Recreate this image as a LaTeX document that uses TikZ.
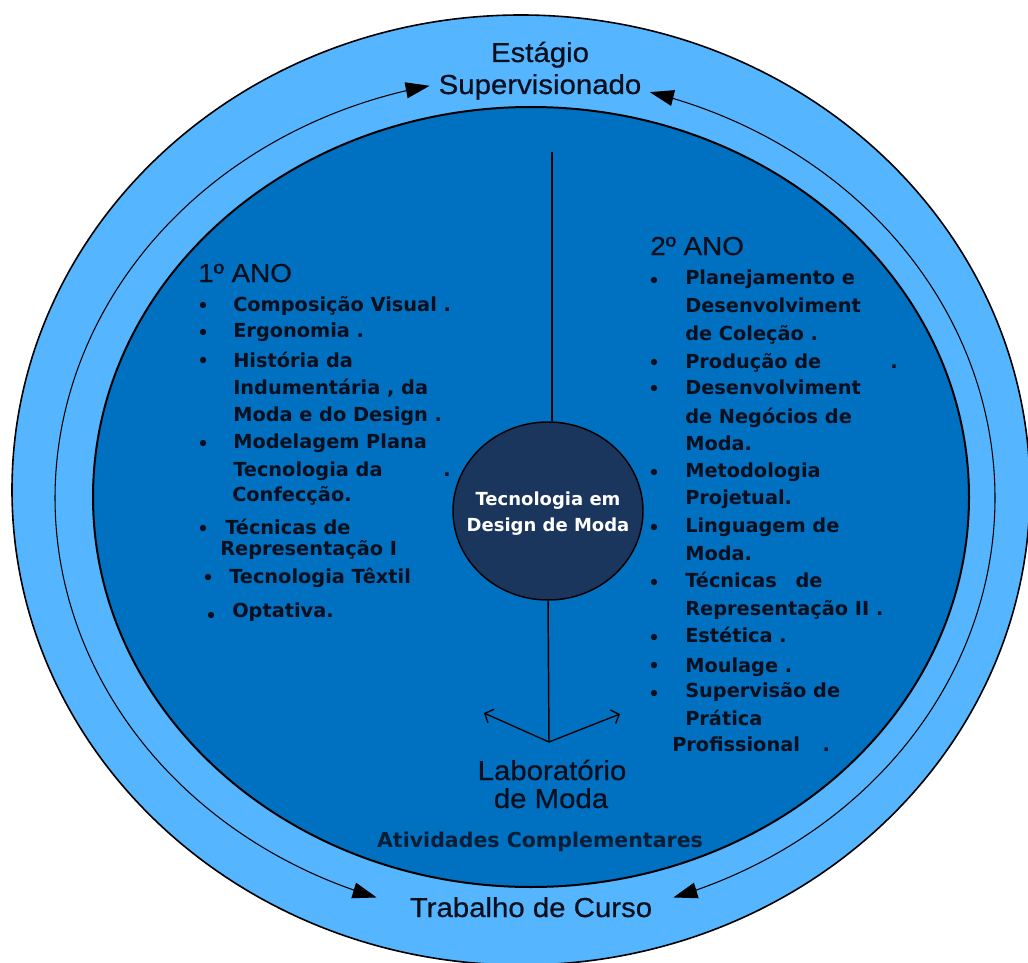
\documentclass[tikz,border=0pt]{standalone}
\usepackage{fontspec}
\usetikzlibrary{arrows.meta,shapes.geometric}
\newfontfamily\titlefont[FakeStretch=1.07,FakeBold=0.6]{Liberation Sans}
\newfontfamily\itemfamily{DejaVu Sans}
\definecolor{ringblue}{HTML}{55B5FF}
\definecolor{midblue}{HTML}{0070C0}
\definecolor{navy}{HTML}{1B365D}
\definecolor{ink}{HTML}{0A0F1E}
\tikzset{
  ttl/.style={font=\titlefont\fontsize{20.6pt}{24pt}\selectfont, text=ink, inner sep=0pt, anchor=base},
  yr/.style={font=\titlefont\fontsize{19.5pt}{22pt}\selectfont, text=ink, inner sep=0pt, anchor=base west},
  itm/.style={font=\itemfamily\bfseries\fontsize{14.5pt}{17pt}\selectfont, text=ink, inner sep=0pt, anchor=base west},
  ctr/.style={font=\itemfamily\bfseries\fontsize{13.5pt}{16pt}\selectfont, text=white, inner sep=0pt, anchor=base},
  act/.style={font=\itemfamily\bfseries\fontsize{15.4pt}{18pt}\selectfont, text=ink!85!midblue, inner sep=0pt, anchor=base},
  bul/.style={circle, fill=ink, inner sep=0pt, minimum size=4.8pt},
  core/.style={ellipse, draw=black, line width=1.1pt, fill=navy, minimum width=142.5pt, minimum height=133.5pt, inner sep=0pt},
  cycle/.style={draw=black, line width=0.8pt, {Triangle[length=18pt,width=12pt]}-{Triangle[length=18pt,width=12pt]}},
  stem/.style={draw=black, line width=1.1pt},
  fork/.style={draw=black, line width=1pt, -{Straight Barb[length=5pt,width=11pt]}}
}
\begin{document}
\begin{tikzpicture}[x=0.75pt,y=-0.75pt]
\useasboundingbox (0,0) rectangle (1028,963);
\fill[white] (0,0) rectangle (1028,963);
\begin{scope}
\clip (0,0) rectangle (1028,963);
% rings
\draw[fill=ringblue, line width=1.2pt] (521,490) ellipse [x radius=509, y radius=475];
\draw[fill=midblue, line width=1.5pt] (531,497) ellipse [x radius=438, y radius=390];
% cycle arcs
\draw[cycle] plot[domain=108.4:258.3, samples=150, smooth] ({525+470*cos(\x)},{498+421*sin(\x)});
\draw[cycle] plot[domain=71.6:-74.6, samples=150, smooth] ({525+470*cos(\x)},{498+421*sin(\x)});
\end{scope}

% titles
\node[ttl] (est1) at (540,62) {Estágio};
\node[ttl] (est2) at (540,94) {Supervisionado};
\node[ttl] (tcc) at (531,917) {Trabalho de Curso};
\node[ttl] (lab1) at (552,780) {Laboratório};
\node[ttl] (lab2) at (551,808) {de Moda};
\node[act] (ativ) at (540,847) {Atividades Complementares};

% center
\node[core] (core) at (548,511) {};
\node[ctr] (ct1) at (548,505) {Tecnologia em};
\node[ctr] (ct2) at (548,531) {Design de Moda};

% stems
\coordinate (top) at (552,152);
\coordinate (forkpt) at (549,742);
\coordinate (lend) at (484,713);
\coordinate (rend) at (620,714);
\draw[stem] (top) -- (top |- core.north);
\draw[stem] (core.south) -- (forkpt);
\draw[fork] (forkpt) -- (lend);
\draw[fork] (forkpt) -- (rend);

% 1o ANO
\node[yr] (y1) at (198,282) {1º ANO};
\node[bul] (lb1) at (203,305) {};
\node[itm] (l1) at (233,311) {Composição Visual .};
\node[bul] (lb2) at (203,332) {};
\node[itm] (l2) at (233,337) {Ergonomia .};
\node[bul] (lb3) at (203,360) {};
\node[itm] (l3) at (233,367) {História da};
\node[itm] (l4) at (233,394) {Indumentária , da};
\node[itm] (l5) at (233,421) {Moda e do Design .};
\node[bul] (lb4) at (203,443) {};
\node[itm] (l6) at (233,448) {Modelagem Plana};
\node[itm] (l7) at (233,476) {Tecnologia da};
\node[itm] (l7d) at (443,476) {.};
\node[itm] (l8) at (232,501) {Confecção.};
\node[bul] (lb5) at (203,528) {};
\node[itm] (l9) at (225,534) {Técnicas de};
\node[itm] (l10) at (220,555) {Representação I};
\node[bul] (lb6) at (208,577) {};
\node[itm] (l11) at (229,583) {Tecnologia Têxtil};
\node[bul] (lb7) at (211,615) {};
\node[itm] (l12) at (232,617) {Optativa.};

% 2o ANO
\node[yr] (y2) at (650,255) {2º ANO};
\node[bul] (rb1) at (654,280) {};
\node[itm] (r1) at (685,284) {Planejamento e};
\node[itm] (r2) at (685,312) {Desenvolviment};
\node[itm] (r3) at (685,340) {de Coleção .};
\node[bul] (rb2) at (654,362) {};
\node[itm] (r4) at (685,368) {Produção de};
\node[itm] (r4d) at (890,368) {.};
\node[bul] (rb3) at (654,388) {};
\node[itm] (r5) at (685,394) {Desenvolviment};
\node[itm] (r6) at (685,423) {de Negócios de};
\node[itm] (r7) at (685,450) {Moda.};
\node[bul] (rb4) at (654,472) {};
\node[itm] (r8) at (685,477) {Metodologia};
\node[itm] (r9) at (685,504) {Projetual.};
\node[bul] (rb5) at (654,527) {};
\node[itm] (r10) at (685,532) {Linguagem de};
\node[itm] (r11) at (685,560) {Moda.};
\node[bul] (rb6) at (654,582) {};
\node[itm] (r12) at (685,587) {Técnicas\hspace{9pt} de};
\node[itm] (r13) at (685,615) {Representação II .};
\node[bul] (rb7) at (654,637) {};
\node[itm] (r14) at (685,642) {Estética .};
\node[bul] (rb8) at (654,665) {};
\node[itm] (r15) at (685,672) {Moulage .};
\node[bul] (rb9) at (654,693) {};
\node[itm] (r16) at (685,697) {Supervisão de};
\node[itm] (r17) at (685,725) {Prática};
\node[itm] (r18) at (672,751) {Profissional\hspace{12pt} .};
\end{tikzpicture}
\end{document}
